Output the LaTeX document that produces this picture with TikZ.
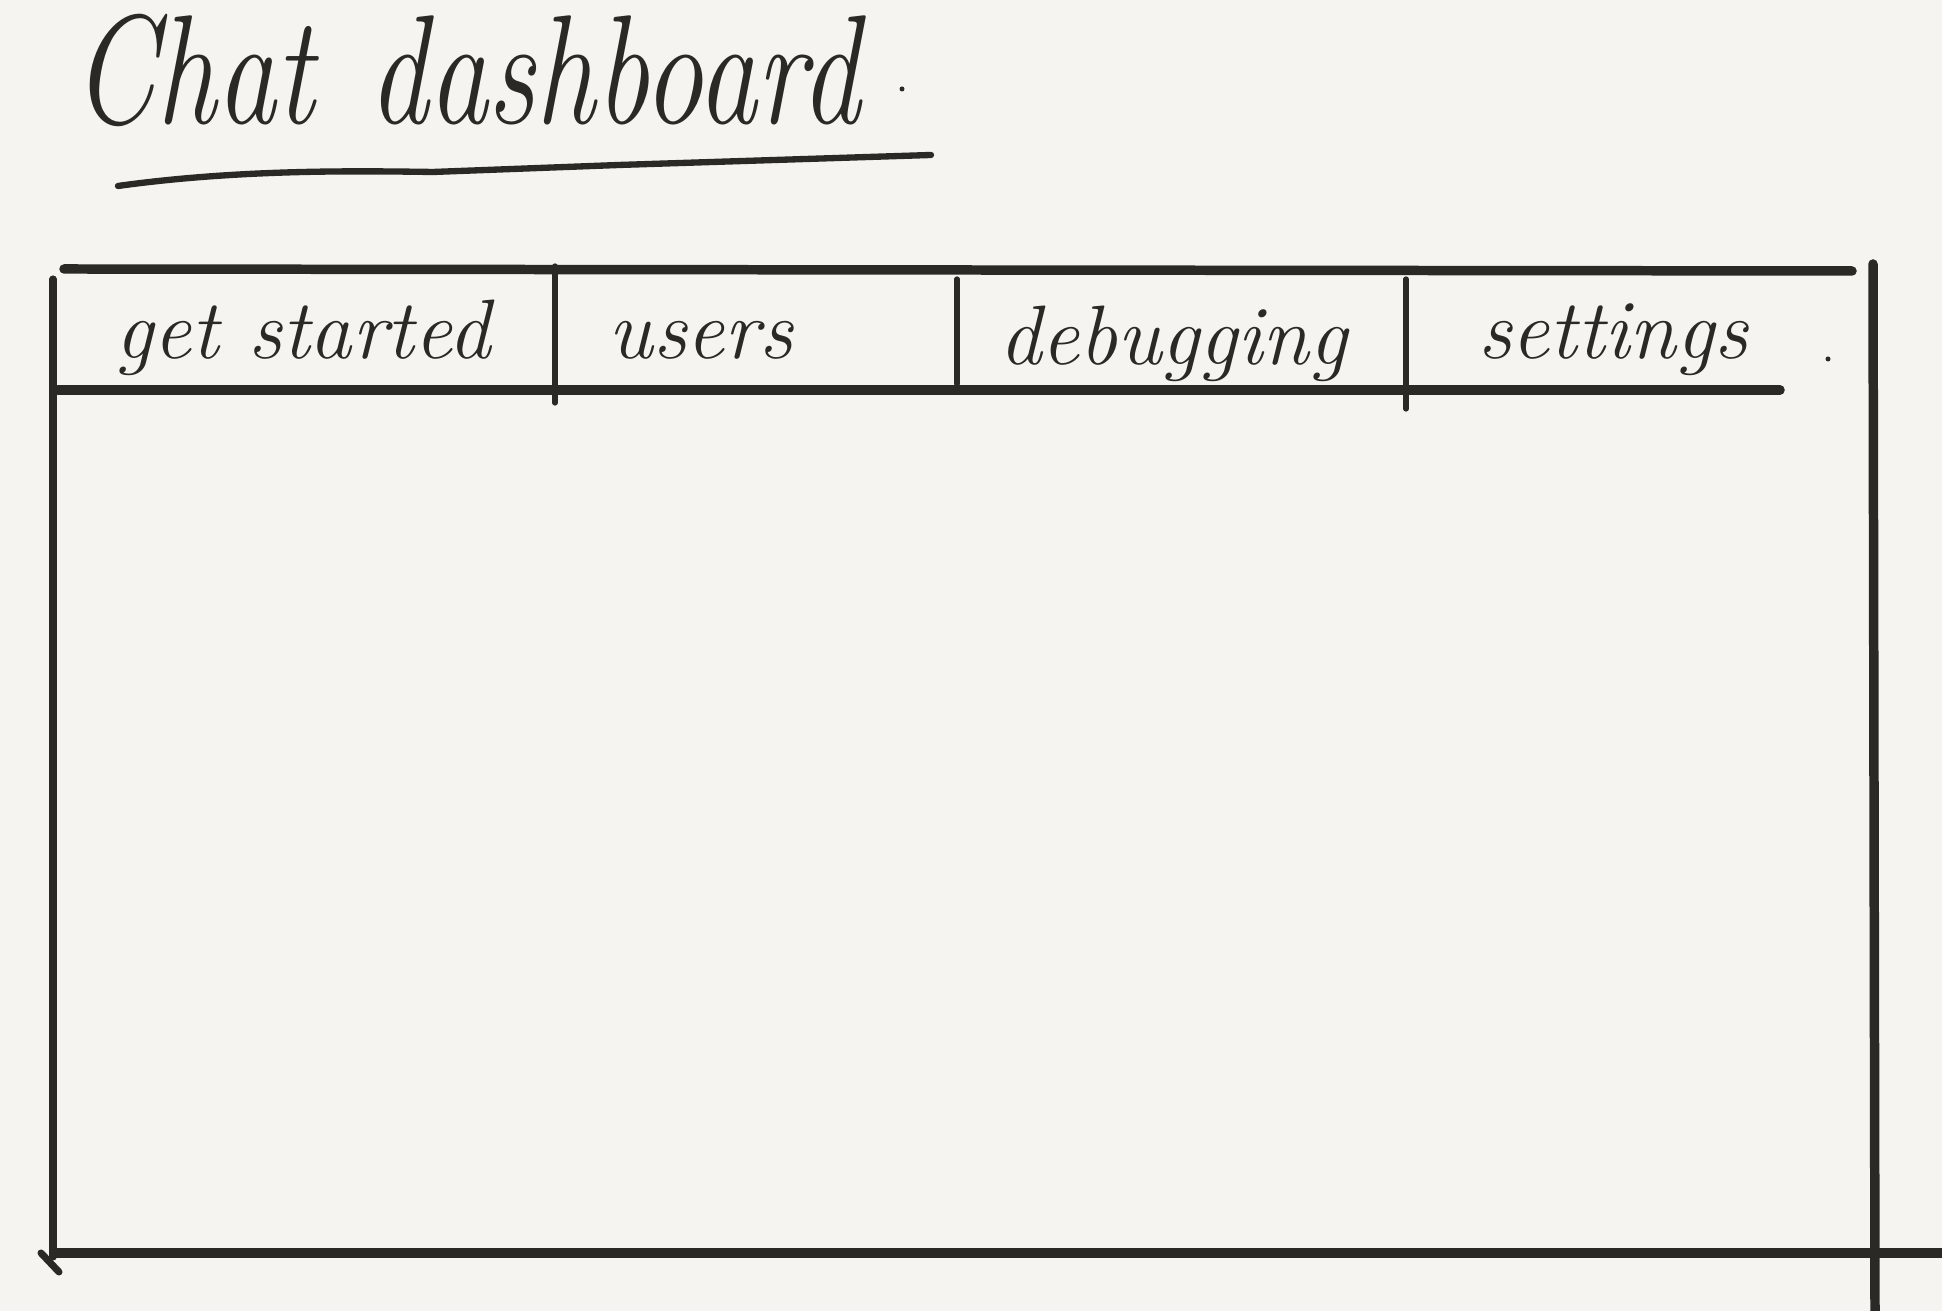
\documentclass[tikz,border=0pt]{standalone}
\usepackage{tikz}
\usetikzlibrary{positioning}
\definecolor{paper}{HTML}{F5F4F0}
\definecolor{ink}{HTML}{2A2925}

\begin{document}
\begin{tikzpicture}[%
  frame/.style={line width=2.7pt, draw=ink, line cap=round},%
  edge/.style={line width=2pt, draw=ink, line cap=round},%
  divider/.style={line width=1.5pt, draw=ink, line cap=round},%
  underline/.style={line width=1.8pt, draw=ink, line cap=round},%
  tablabel/.style={text=ink, anchor=base, inner sep=0pt, font=\fontsize{24}{28}\selectfont\itshape},%
  head/.style={text=ink, anchor=base west, inner sep=0pt, font=\fontsize{34}{40}\selectfont\itshape, yscale=1.3, transform shape}%
]
  \fill[paper] (0,0) rectangle (19.42,13.11);
  \useasboundingbox (0,0) rectangle (19.42,13.11);
  % Titulo
  \node[head] (title) at (0.72,11.87) {Chat\hspace{0.1em} dashboard};
  \fill[ink] (9.02,12.22) circle (0.025);
  \draw[underline] (1.18,11.25) .. controls (2.4,11.42) and (3.6,11.40) .. (4.33,11.39) -- (6.19,11.46) -- (9.31,11.56);
  % Marco
  \draw[frame] (0.64,10.42) -- (18.52,10.40);
  \draw[edge] (0.53,10.32) -- (0.53,0.54);
  \draw[frame] (0.56,0.58) -- (19.42,0.58);
  \draw[edge] (0.41,0.58) -- (0.59,0.39);
  \draw[frame] (18.73,10.47) -- (18.75,0);
  % Pestanas
  \draw[frame] (0.58,9.21) -- (17.80,9.21);
  \draw[divider] (5.55,10.45) -- (5.55,9.08);
  \draw[divider] (9.57,10.32) -- (9.57,9.27);
  \draw[divider] (14.06,10.32) -- (14.06,9.02);
  \node[tablabel] (tabstart) at (3.03,9.52) {get started};
  \node[tablabel] (tabusers) at (7.01,9.52) {users};
  \node[tablabel] (tabdebug) at (11.73,9.46) {debugging};
  \node[tablabel] (tabsettings) at (16.13,9.52) {settings};
  \fill[ink] (18.28,9.52) circle (0.025);
\end{tikzpicture}
\end{document}
